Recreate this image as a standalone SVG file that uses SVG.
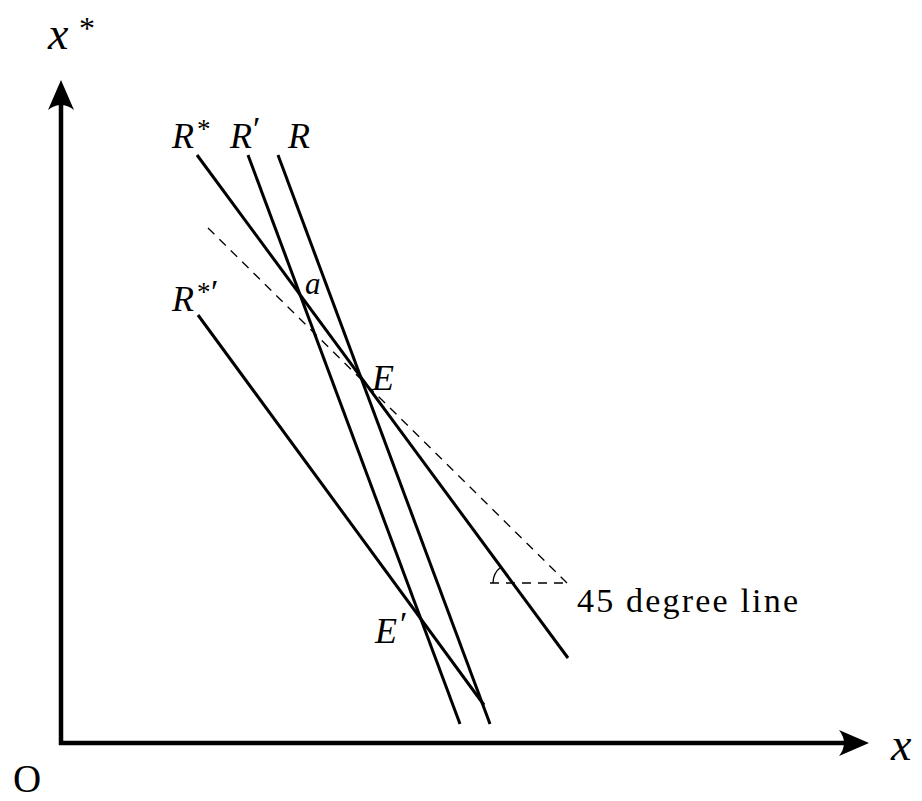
<svg xmlns="http://www.w3.org/2000/svg" width="922" height="801" viewBox="0 0 922 801">
<style>
.ln{stroke:#000;stroke-width:3;fill:none;stroke-linecap:butt}
.ax{stroke:#000;stroke-width:4.5;fill:none}
.ds{stroke:#000;stroke-width:1.3;fill:none;stroke-dasharray:9,7}
</style>
<rect width="922" height="801" fill="#fff"/>
<g id="axes">
<path class="ax" d="M61,745 V95 M59,743 H855"/>
<path d="M61,80 L74,110 Q61,100 48,110 Z" fill="#000"/>
<path d="M869,743 L839,730 Q849,743 839,756 Z" fill="#000"/>
</g>
<g id="connectors">
<line id="Rstar" class="ln" x1="197" y1="155" x2="568" y2="658"/>
<line id="Rprime" class="ln" x1="248" y1="155" x2="460" y2="724"/>
<line id="R" class="ln" x1="278" y1="155" x2="490" y2="724"/>
<line id="Rstarprime" class="ln" x1="198" y1="315" x2="484" y2="705"/>
<line id="line45" class="ds" x1="208" y1="228" x2="567" y2="583"/>
<line class="ds" x1="490" y1="583" x2="567" y2="583"/>
<path class="ln" style="stroke-width:1.3" d="M493,583 A20,20 0 0 1 501,567"/>
</g>
<g id="labels">
<text x="48" y="49" font-family="Liberation Serif" font-style="italic" font-size="46">x</text>
<text x="172" y="148" font-family="Liberation Serif" font-style="italic" font-size="36">R</text>
<text x="230" y="148" font-family="Liberation Serif" font-style="italic" font-size="36">R</text>
<text x="288" y="148" font-family="Liberation Serif" font-style="italic" font-size="36">R</text>
<text x="172" y="311" font-family="Liberation Serif" font-style="italic" font-size="36">R</text>
<text x="305" y="294" font-family="Liberation Serif" font-style="italic" font-size="31">a</text>
<text x="372" y="390" font-family="Liberation Serif" font-style="italic" font-size="36">E</text>
<text x="375" y="643" font-family="Liberation Serif" font-style="italic" font-size="36">E</text>
<text x="891" y="760" font-family="Liberation Serif" font-style="italic" font-size="46">x</text>
<text x="79" y="39" font-family="Liberation Serif" font-size="32">*</text>
<text x="197" y="138" font-family="Liberation Serif" font-size="27">*</text>
<text x="253" y="140" font-family="Liberation Serif" font-size="34">′</text>
<text x="197" y="301" font-family="Liberation Serif" font-size="27">*</text>
<text x="211" y="303" font-family="Liberation Serif" font-size="34">′</text>
<text x="400" y="635" font-family="Liberation Serif" font-size="34">′</text>
<text x="577" y="612" font-family="Liberation Serif" font-size="34" textLength="221" lengthAdjust="spacing">45 degree line</text>
<text x="13" y="792" font-family="Liberation Serif" font-size="39">O</text>
</g>
</svg>
